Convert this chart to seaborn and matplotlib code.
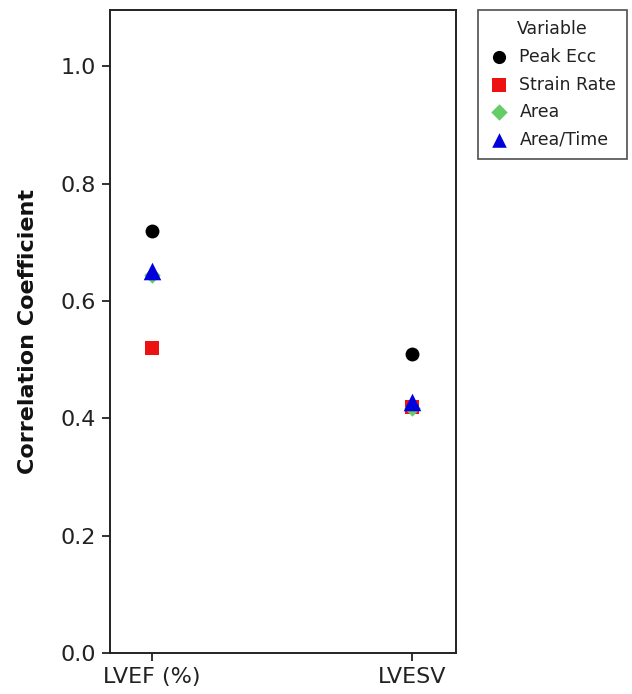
import matplotlib
matplotlib.use("Agg")
import matplotlib.pyplot as plt
import seaborn as sns
import pandas as pd

# Correlation coefficients for each measure against LV outcomes
outcomes = ["LVEF (%)", "LVESV"]
variables = ["Peak Ecc", "Strain Rate", "Area", "Area/Time"]
peak_ecc = [0.72, 0.51]
strain_rate = [0.52, 0.42]
area = [0.645, 0.418]
area_time = [0.651, 0.427]
y_ticks = [0.0, 0.2, 0.4, 0.6, 0.8, 1.0]

rows = []
for name, vals in zip(variables, [peak_ecc, strain_rate, area, area_time]):
    for outcome, v in zip(outcomes, vals):
        rows.append({"Outcome": outcome, "Variable": name, "r": v})
df = pd.DataFrame(rows)

palette = {"Peak Ecc": "#000000", "Strain Rate": "#ee1111",
           "Area": "#66cc66", "Area/Time": "#0000dd"}
markers = {"Peak Ecc": "o", "Strain Rate": "s", "Area": "D", "Area/Time": "^"}
sizes = {"Peak Ecc": 100, "Strain Rate": 95, "Area": 70, "Area/Time": 160}
legend_sizes = {"Peak Ecc": 90, "Strain Rate": 90, "Area": 70, "Area/Time": 110}

sns.set_style("white")
plt.rcParams["font.family"] = ["DejaVu Sans"]

fig = plt.figure(figsize=(6.32, 6.94), dpi=100)
ax = fig.add_axes([0.174, 0.0591, 0.548, 0.9265])

for name in variables:
    sub = df[df["Variable"] == name]
    sns.scatterplot(data=sub, x="Outcome", y="r", color=palette[name],
                    marker=markers[name], s=sizes[name], linewidth=0,
                    label=name, ax=ax, zorder=3)

ax.set_xlim(-0.16, 1.17)
ax.set_ylim(0, 1.096)
ax.set_yticks(y_ticks)
ax.set_yticklabels([f"{t:.1f}" for t in y_ticks])
ax.set_xlabel("")
ax.set_ylabel("Correlation Coefficient", fontsize=16, fontweight="bold",
              color="#111111", labelpad=16)

for sp in ax.spines.values():
    sp.set_visible(True)
    sp.set_color("#222222")
    sp.set_linewidth(1.4)
ax.tick_params(axis="both", direction="out", length=6, width=1.3,
               color="#222222", labelsize=16, labelcolor="#222222",
               left=True, bottom=True, pad=4)

handles, labels = ax.get_legend_handles_labels()
leg = ax.legend(handles, labels, title="Variable", loc="upper left",
                bbox_to_anchor=(0.756, 0.9856), bbox_transform=fig.transFigure,
                borderaxespad=0, fontsize=12.5, title_fontsize=12.5,
                frameon=True, fancybox=False, edgecolor="#222222",
                handletextpad=0.6, labelspacing=0.55, borderpad=0.6,
                handlelength=1.2)
leg.get_frame().set_linewidth(1.2)
leg.get_title().set_color("#222222")
for t in leg.get_texts():
    t.set_color("#222222")
for h, lab in zip(leg.legend_handles, labels):
    h.set_sizes([legend_sizes[lab]])

fig.savefig("out.png", dpi=100, facecolor="white")
